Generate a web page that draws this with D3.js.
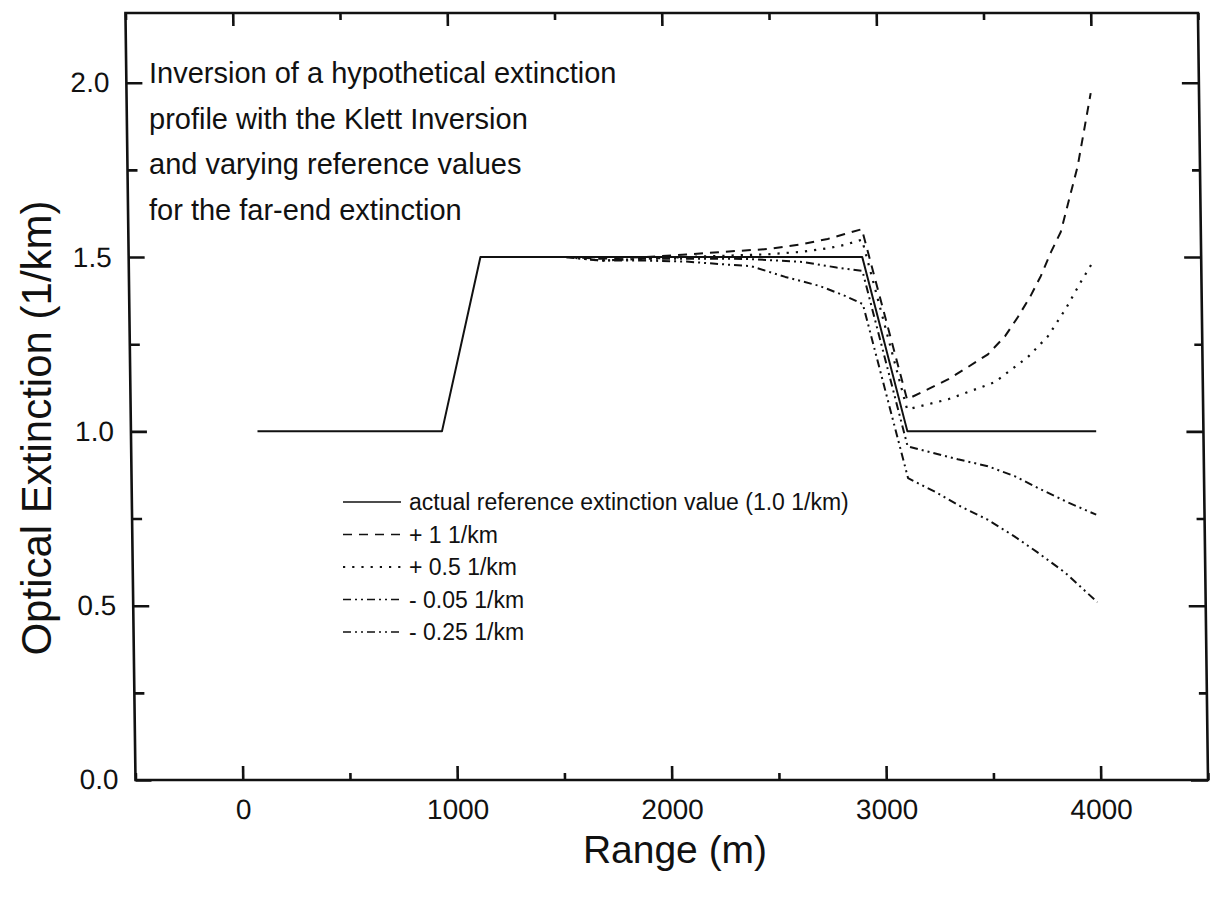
<!DOCTYPE html>
<html>
<head>
<meta charset="utf-8">
<script src="https://cdn.jsdelivr.net/npm/d3@7"></script>
<style>
  html, body { margin: 0; padding: 0; background: #fff; }
  svg { display: block; font-family: "Liberation Sans", Arial, sans-serif; }
</style>
</head>
<body>
<svg id="chart" width="1210" height="898"></svg>
<script>
// Range (m) and optical extinction (1/km) for each profile
const actualX = [90, 950, 1140, 2920, 3120, 4000];
const actualY = [1.0, 1.0, 1.5, 1.5, 1.0, 1.0];

const plus1X = [1540, 1700, 1900, 2100, 2250, 2480, 2640, 2760, 2840, 2920, 3120, 3219, 3312, 3405, 3500, 3581, 3642, 3702, 3751, 3800, 3847, 3930, 3995];
const plus1Y = [1.50, 1.495, 1.50, 1.507, 1.514, 1.523, 1.537, 1.552, 1.566, 1.58, 1.092, 1.121, 1.149, 1.184, 1.221, 1.273, 1.328, 1.388, 1.445, 1.514, 1.572, 1.761, 1.97];

const plus05X = [1540, 1700, 1900, 2100, 2250, 2480, 2640, 2760, 2840, 2920, 3120, 3312, 3530, 3686, 3781, 3865, 3937, 3995];
const plus05Y = [1.50, 1.49, 1.495, 1.50, 1.503, 1.508, 1.515, 1.525, 1.535, 1.55, 1.063, 1.092, 1.141, 1.213, 1.273, 1.351, 1.428, 1.486];

const minus005X = [1540, 1700, 1900, 2100, 2300, 2400, 2640, 2800, 2920, 3120, 3228, 3353, 3493, 3619, 3740, 3865, 3995];
const minus005Y = [1.50, 1.49, 1.495, 1.495, 1.495, 1.494, 1.486, 1.47, 1.46, 0.957, 0.940, 0.920, 0.900, 0.871, 0.833, 0.796, 0.761];

const minus025X = [1540, 1700, 1900, 2100, 2250, 2400, 2560, 2720, 2840, 2920, 3120, 3250, 3365, 3488, 3614, 3721, 3846, 3995];
const minus025Y = [1.50, 1.49, 1.49, 1.487, 1.48, 1.474, 1.443, 1.417, 1.388, 1.365, 0.866, 0.825, 0.784, 0.747, 0.698, 0.652, 0.595, 0.51];

const xTicks = [0, 1000, 2000, 3000, 4000];
const xMinorTicks = [-500, 500, 1500, 2500, 3500, 4500];
const yTicks = [0.0, 0.5, 1.0, 1.5, 2.0];
const yMinorTicks = [0.25, 0.75, 1.25, 1.75];

const legendLabels = [
  "actual reference extinction value (1.0 1/km)",
  "+ 1 1/km",
  "+ 0.5 1/km",
  "- 0.05 1/km",
  "- 0.25 1/km"
];
const noteLines = [
  "Inversion of a hypothetical extinction",
  "profile with the Klett Inversion",
  "and varying reference values",
  "for the far-end extinction"
];

const series = [
  { xs: actualX,   ys: actualY,   dash: null,          width: 2.0 },
  { xs: plus1X,    ys: plus1Y,    dash: "9,7",         width: 2.0 },
  { xs: plus05X,   ys: plus05Y,   dash: "2.2,7",       width: 2.2 },
  { xs: minus005X, ys: minus005Y, dash: "8,4,2,4,2,4", width: 2.0 },
  { xs: minus025X, ys: minus025Y, dash: "8,4,2,4,2,4", width: 2.0 }
];

const svg = d3.select("#chart");
const plotLeft = 135.5, plotRight = 1208, plotTop = 13, plotBottom = 780;

const x = d3.scaleLinear().domain([-500, 4500]).range([plotLeft, plotRight]);
const y = d3.scaleLinear().domain([0, 2.2]).range([plotBottom, plotTop]);

// the plot frame leans slightly, anchored at the bottom axis
const lean = 0.75;
const g = svg.append("g")
  .attr("transform", `translate(${-Math.tan(lean * Math.PI / 180) * plotBottom},0) skewX(${lean})`);

// data lines
const line = d3.line().x(d => x(d[0])).y(d => y(d[1]));
series.forEach(s => {
  const pts = s.xs.map((v, i) => [v, s.ys[i]]);
  g.append("path")
    .attr("d", line(pts))
    .attr("fill", "none")
    .attr("stroke", "#111")
    .attr("stroke-width", s.width)
    .attr("stroke-linejoin", "round")
    .attr("stroke-dasharray", s.dash);
});

// axes: ticks point inward on all four sides
const axisStyle = sel => {
  sel.select(".domain").remove();
  sel.selectAll(".tick line").attr("stroke", "#111").attr("stroke-width", 2.6);
  sel.selectAll(".tick text").attr("fill", "#111");
};
const labelFont = "Liberation Sans, Arial, sans-serif";

g.append("g").attr("transform", `translate(0,${plotBottom})`)
  .call(d3.axisBottom(x).tickValues(xTicks).tickSize(-14).tickPadding(19).tickFormat(d3.format("d")))
  .call(axisStyle)
  .call(s => s.selectAll(".tick text").attr("font-size", 28).attr("font-family", labelFont));
g.append("g").attr("transform", `translate(0,${plotBottom})`)
  .call(d3.axisBottom(x).tickValues(xMinorTicks).tickSize(-7).tickFormat(""))
  .call(axisStyle);

g.append("g").attr("transform", `translate(0,${plotTop})`)
  .call(d3.axisTop(x).tickValues(xTicks).tickSize(-13).tickFormat(""))
  .call(axisStyle);
g.append("g").attr("transform", `translate(0,${plotTop})`)
  .call(d3.axisTop(x).tickValues(xMinorTicks).tickSize(-7).tickFormat(""))
  .call(axisStyle);

g.append("g").attr("transform", `translate(${plotLeft},0)`)
  .call(d3.axisLeft(y).tickValues(yTicks).tickSize(-16).tickPadding(17).tickFormat(d3.format(".1f")))
  .call(axisStyle)
  .call(s => s.selectAll(".tick text").attr("font-size", 28).attr("font-family", labelFont));
g.append("g").attr("transform", `translate(${plotLeft},0)`)
  .call(d3.axisLeft(y).tickValues(yMinorTicks).tickSize(-10).tickFormat(""))
  .call(axisStyle);

g.append("g").attr("transform", `translate(${plotRight},0)`)
  .call(d3.axisRight(y).tickValues(yTicks).tickSize(-17).tickFormat(""))
  .call(axisStyle);
g.append("g").attr("transform", `translate(${plotRight},0)`)
  .call(d3.axisRight(y).tickValues(yMinorTicks).tickSize(-8).tickFormat(""))
  .call(axisStyle);

// frame
g.append("rect")
  .attr("x", plotLeft).attr("y", plotTop)
  .attr("width", plotRight - plotLeft).attr("height", plotBottom - plotTop)
  .attr("fill", "none").attr("stroke", "#111").attr("stroke-width", 2.6);

// axis titles
svg.append("text")
  .attr("x", 675).attr("y", 863)
  .attr("text-anchor", "middle").attr("font-size", 39).attr("fill", "#111")
  .text("Range (m)");
svg.append("text")
  .attr("transform", "translate(51,428) rotate(-90)")
  .attr("text-anchor", "middle").attr("font-size", 42).attr("fill", "#111")
  .text("Optical Extinction (1/km)");

// annotation block
svg.append("g").selectAll("text").data(noteLines).join("text")
  .attr("x", 149).attr("y", (d, i) => 83 + i * 45.5)
  .attr("font-size", 29).attr("fill", "#111")
  .text(d => d);

// legend
const lg = svg.append("g");
series.forEach((s, i) => {
  const base = 510 + i * 32.5;
  lg.append("line")
    .attr("x1", 343).attr("x2", 401)
    .attr("y1", base - 8).attr("y2", base - 8)
    .attr("stroke", "#111").attr("stroke-width", s.width - 0.4)
    .attr("stroke-dasharray", s.dash);
  lg.append("text")
    .attr("x", 409).attr("y", base)
    .attr("font-size", 23).attr("fill", "#111")
    .text(legendLabels[i]);
});
</script>
</body>
</html>
